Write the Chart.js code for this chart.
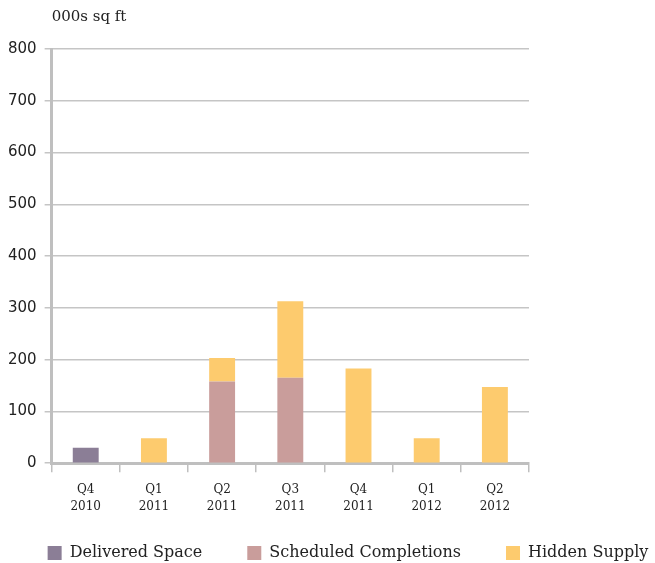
<!DOCTYPE html>
<html>
<head>
<meta charset="utf-8">
<title>Supply pipeline</title>
<script src="https://cdn.jsdelivr.net/npm/chart.js@4.4.0/dist/chart.umd.min.js"></script>
<style>
    html, body { margin: 0; padding: 0; background: #ffffff; }
    #wrap { width: 655px; height: 563px; }
</style>
</head>
<body>
<div id="wrap"><canvas id="supplyChart"></canvas></div>
<script>
    // quarters on the x axis (two line labels)
    const quarters = [['Q4', '2010'], ['Q1', '2011'], ['Q2', '2011'], ['Q3', '2011'], ['Q4', '2011'], ['Q1', '2012'], ['Q2', '2012']];

    // 000s sq ft per quarter
    const deliveredSpace = [30, null, null, null, null, null, null];
    const scheduledCompletions = [null, null, 158, 165, null, null, null];
    const hiddenSupply = [null, 48, 45, 148, 183, 48, 147];

    const yTicks = [0, 100, 200, 300, 400, 500, 600, 700, 800];

    const serif = '"DejaVu Serif", serif';
    const textColor = '#222222';
    const gridGrey = '#c5c5c5';
    const axisGrey = '#bfbfbf';

    // legend row drawn under the x axis, left edge lined up with the plot
    const bottomLegend = {
        id: 'bottomLegend',
        afterDraw(chart) {
            const c = chart.ctx;
            const box = 14, gap = 8, spacing = 45;
            const y = chart.height - 10;
            let x = chart.chartArea.left - 4;
            c.save();
            c.font = '16px ' + serif;
            c.textBaseline = 'middle';
            c.textAlign = 'left';
            chart.data.datasets.forEach(ds => {
                c.fillStyle = ds.backgroundColor;
                c.fillRect(x, y - box / 2, box, box);
                c.fillStyle = textColor;
                c.fillText(ds.label, x + box + gap, y);
                x += box + gap + c.measureText(ds.label).width + spacing;
            });
            c.restore();
        }
    };

    const ctx = document.getElementById('supplyChart').getContext('2d');
    const chart = new Chart(ctx, {
        type: 'bar',
        data: {
            labels: quarters,
            datasets: [
                { label: 'Delivered Space', data: deliveredSpace, backgroundColor: '#8b7e96' },
                { label: 'Scheduled Completions', data: scheduledCompletions, backgroundColor: '#c99d9b' },
                { label: 'Hidden Supply', data: hiddenSupply, backgroundColor: '#fdcb6e' }
            ]
        },
        options: {
            responsive: true,
            maintainAspectRatio: false,
            animation: false,
            layout: { padding: { left: 0, right: 0, top: 0, bottom: 38 } },
            datasets: {
                bar: { barPercentage: 0.38, categoryPercentage: 1.0, borderWidth: 0 }
            },
            scales: {
                x: {
                    stacked: true,
                    grid: {
                        drawOnChartArea: false,
                        drawTicks: true,
                        tickLength: 9,
                        color: axisGrey,
                        lineWidth: 1.5
                    },
                    border: { display: true, color: axisGrey, width: 3 },
                    ticks: {
                        color: textColor,
                        font: { family: serif, size: 12, lineHeight: 1.45 },
                        padding: 9,
                        maxRotation: 0
                    }
                },
                y: {
                    stacked: true,
                    min: 0,
                    max: 800,
                    afterBuildTicks: function (scale) {
                        scale.ticks = yTicks.map(v => ({ value: v }));
                    },
                    grid: {
                        color: gridGrey,
                        lineWidth: 1.5,
                        tickLength: 7
                    },
                    border: { display: true, color: axisGrey, width: 3 },
                    ticks: {
                        color: textColor,
                        font: { family: '"DejaVu Sans", sans-serif', size: 15 },
                        padding: 8
                    }
                },
                // empty right-hand axis keeps the plot narrower than the legend row
                spacer: {
                    type: 'linear',
                    position: 'right',
                    display: true,
                    grid: { display: false },
                    border: { display: false },
                    ticks: { display: false },
                    afterFit: function (scale) { scale.width = 126; }
                }
            },
            plugins: {
                title: {
                    display: true,
                    text: '000s sq ft',
                    align: 'start',
                    fullSize: false,
                    color: textColor,
                    font: { family: serif, size: 15, weight: 'normal', lineHeight: 1.2 },
                    padding: { top: 8, bottom: 23 }
                },
                legend: { display: false },
                tooltip: { enabled: false }
            }
        },
        plugins: [bottomLegend]
    });
</script>
</body>
</html>
